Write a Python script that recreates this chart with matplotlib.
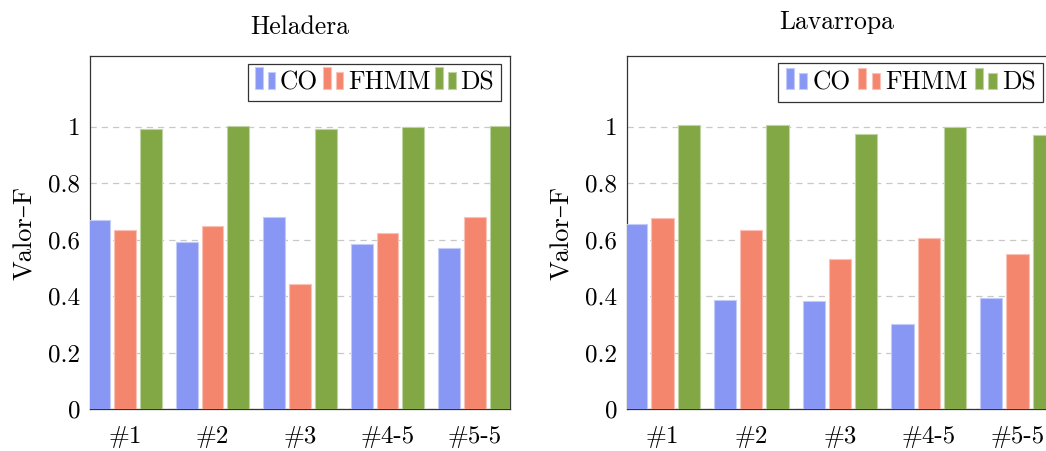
import matplotlib
matplotlib.use("Agg")
import matplotlib.pyplot as plt
from matplotlib.patches import Rectangle
from matplotlib.legend_handler import HandlerBase
import numpy as np

plt.rcParams['font.family'] = ['cmr10', 'DejaVu Serif']
plt.rcParams['mathtext.fontset'] = 'cm'
plt.rcParams['axes.formatter.use_mathtext'] = True

categories = ['#1', '#2', '#3', '#4-5', '#5-5']
series = ['CO', 'FHMM', 'DS']
heladera_co = [0.670, 0.593, 0.679, 0.584, 0.569]
heladera_fhmm = [0.634, 0.648, 0.443, 0.623, 0.679]
heladera_ds = [0.991, 1.002, 0.991, 0.998, 1.002]
lavarropa_co = [0.654, 0.386, 0.382, 0.302, 0.392]
lavarropa_fhmm = [0.676, 0.634, 0.531, 0.604, 0.550]
lavarropa_ds = [1.006, 1.006, 0.973, 1.000, 0.972]
yticks = [0, 0.2, 0.4, 0.6, 0.8, 1]
ytick_labels = ['0', '0.2', '0.4', '0.6', '0.8', '1']

colors = ['#8797F3', '#F5866E', '#82A745']
edges = ['#C3CBF9', '#FAC2B6', '#C0D3A2']


class BarPairHandler(HandlerBase):
    def __init__(self, fc, ec):
        super().__init__()
        self.fc = fc
        self.ec = ec

    def create_artists(self, legend, orig_handle, xdescent, ydescent,
                       width, height, fontsize, trans):
        bw = width * 0.377
        h1 = height * 1.22
        h2 = height * 0.94
        y0 = -ydescent
        r1 = Rectangle((-xdescent, y0), bw, h1,
                       facecolor=self.fc, edgecolor=self.ec, lw=0.8, transform=trans)
        r2 = Rectangle((-xdescent + width - bw, y0), bw, h2,
                       facecolor=self.fc, edgecolor=self.ec, lw=0.8, transform=trans)
        return [r1, r2]


fig = plt.figure(figsize=(10.46, 4.51), dpi=100)
W, H = 1046, 451
# title, data, axes left px, axes width px, title baseline px, legend params
panels = [
    ('Heladera', [heladera_co, heladera_fhmm, heladera_ds], 90, 420, 33.5,
     dict(handlelength=0.8, handletextpad=0.18, columnspacing=0.19, borderpad=0.27,
          bbox_to_anchor=(1 - 9 / 420, 1 - 7.5 / 353))),
    ('Lavarropa', [lavarropa_co, lavarropa_fhmm, lavarropa_ds], 627, 426, 29.5,
     dict(handlelength=0.86, handletextpad=0.21, columnspacing=0.27, borderpad=0.29,
          bbox_to_anchor=(1 - 10 / 426, 1 - 7.3 / 353))),
]
x = np.arange(len(categories))
offsets = [-0.295, 0.0, 0.295]
bar_w = 0.25
for title, data, left, width, title_base, legkw in panels:
    ax = fig.add_axes([left / W, (H - 409) / H, width / W, 353 / H])
    handles = []
    for i, vals in enumerate(data):
        b = ax.bar(x + offsets[i], vals, bar_w, color=colors[i], edgecolor=edges[i],
                   linewidth=0.8, zorder=3, label=series[i])
        handles.append(b)
    ax.set_xlim(-0.4, 4.4)
    ax.set_ylim(0, 1.25)
    ax.set_yticks(yticks)
    ax.set_yticklabels(ytick_labels)
    ax.set_xticks(x)
    ax.set_xticklabels(categories)
    ax.tick_params(axis='y', length=0, labelsize=18, pad=7)
    ax.tick_params(axis='x', length=0, labelsize=18, pad=12)
    ax.yaxis.grid(True, linestyle=(0, (5, 4)), color='#C8C8C8', linewidth=0.9, zorder=0)
    ax.set_axisbelow(True)
    for s in ax.spines.values():
        s.set_color('#333333')
        s.set_linewidth(0.9)
        s.set_zorder(2)
    ax.set_ylabel('Valor–F', fontsize=19, labelpad=8)
    fig.text((left + 210) / W, 1 - title_base / H, title, fontsize=18.5,
             ha='center', va='baseline')
    leg = ax.legend(handles=handles, labels=series, loc='upper right', ncol=3,
                    fontsize=18.4, frameon=True, fancybox=False, edgecolor='black',
                    borderaxespad=0.0,
                    handler_map={handles[i]: BarPairHandler(colors[i], edges[i]) for i in range(3)},
                    **legkw)
    leg.get_frame().set_linewidth(0.9)
    leg.set_zorder(5)

fig.savefig('out.png', dpi=100)
